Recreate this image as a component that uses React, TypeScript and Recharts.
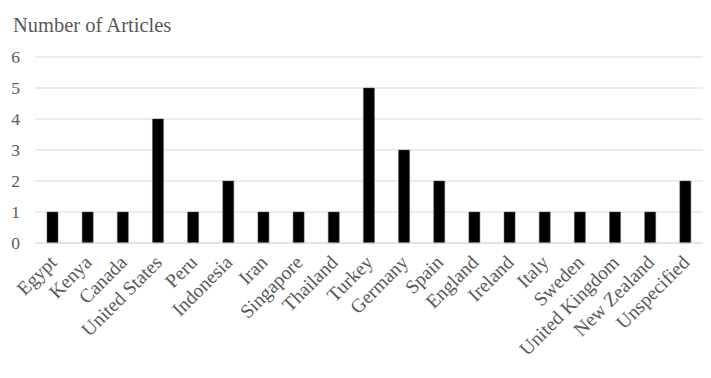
import React from "react";
import { BarChart, Bar, XAxis, YAxis, CartesianGrid } from "recharts";

const countries = ["Egypt", "Kenya", "Canada", "United States", "Peru", "Indonesia", "Iran", "Singapore", "Thailand", "Turkey", "Germany", "Spain", "England", "Ireland", "Italy", "Sweden", "United Kingdom", "New Zealand", "Unspecified"];
const articles = [1, 1, 1, 4, 1, 2, 1, 1, 1, 5, 3, 2, 1, 1, 1, 1, 1, 1, 2];
const yTicks = [0, 1, 2, 3, 4, 5, 6];

const data = countries.map((c, i) => ({ country: c, value: articles[i] }));

const FONT = "'Liberation Serif', 'Times New Roman', serif";
const GRAY = "#595959";

const XTick = (props: any) => {
  const { x, y, payload } = props;
  return (
    <g transform={`translate(${x - 0.5},${y + 7})`}>
      <text textAnchor="end" transform="rotate(-45)" fill={GRAY} fontSize={19.5} fontFamily={FONT} dy={8}>
        {payload.value}
      </text>
    </g>
  );
};

const YTick = (props: any) => {
  const { x, y, payload } = props;
  return (
    <text x={x - 7} y={y} dy={6} textAnchor="end" fill={GRAY} fontSize={17.5} fontFamily={FONT}>
      {payload.value}
    </text>
  );
};

export default function App() {
  return (
    <div style={{ position: "absolute", left: 0, top: 0, width: 711, height: 378, background: "#fff" }}>
      <svg width={711} height={50} style={{ position: "absolute", left: 0, top: 0 }}>
        <text x={13} y={32} fill={GRAY} fontSize={20.5} fontFamily={FONT}>Number of Articles</text>
      </svg>
      <BarChart width={711} height={378} data={data} margin={{ top: 57, right: 8, bottom: 0, left: 0 }} barCategoryGap={0}>
        <CartesianGrid vertical={false} stroke="#d9d9d9" strokeWidth={1} />
        <XAxis dataKey="country" interval={0} tick={<XTick />} tickLine={false} axisLine={{ stroke: "#d9d9d9" }} height={135} />
        <YAxis domain={[0, 6]} ticks={yTicks} width={35} tick={<YTick />} tickLine={false} axisLine={false} />
        <Bar dataKey="value" fill="#000" stroke="#555" strokeWidth={0.5} barSize={11} isAnimationActive={false} />
      </BarChart>
    </div>
  );
}
